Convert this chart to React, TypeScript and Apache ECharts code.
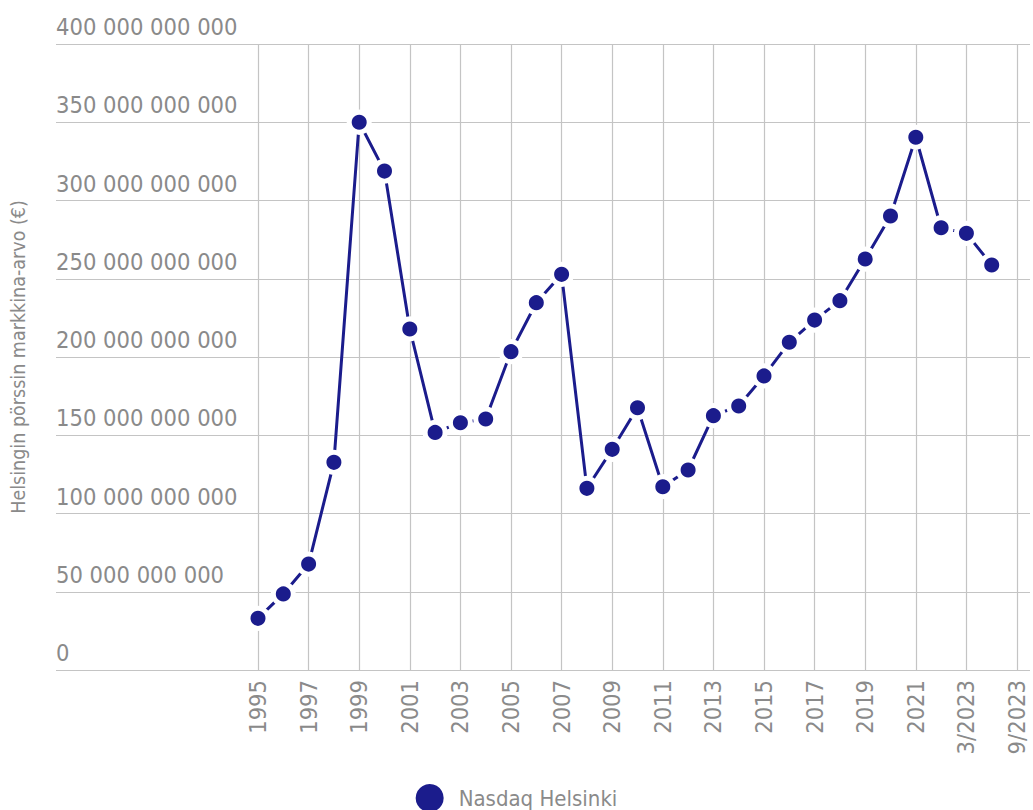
import React, { useEffect, useRef } from "react";
import * as echarts from "echarts";

const categories = [
  "1995", "1996", "1997", "1998", "1999", "2000", "2001", "2002", "2003", "2004",
  "2005", "2006", "2007", "2008", "2009", "2010", "2011", "2012", "2013", "2014",
  "2015", "2016", "2017", "2018", "2019", "2020", "2021", "2022", "3/2023", "6/2023", "9/2023",
];

const marketValue = [
  33.0e9, 48.6e9, 67.7e9, 132.7e9, 350.0e9, 318.8e9, 217.9e9, 151.8e9, 158.0e9, 160.4e9,
  203.4e9, 234.7e9, 252.8e9, 116.1e9, 141.0e9, 167.6e9, 117.1e9, 127.8e9, 162.5e9, 168.7e9,
  187.9e9, 209.4e9, 223.6e9, 236.0e9, 262.6e9, 290.1e9, 340.4e9, 282.6e9, 279.0e9, 258.8e9,
];

const seriesName = "Nasdaq Helsinki";
const yAxisTitle = "Helsingin pörssin markkina-arvo (€)";
const yMin = 0;
const yMax = 400e9;
const yStep = 50e9;

const FONT = "'Liberation Sans Narrow', 'DejaVu Sans Condensed', 'Roboto Condensed', sans-serif";
const TEXT = "#8a8a8a";
const GRID = "#c4c4c4";
const NAVY = "#1b1c8c";

function fmt(v: number): string {
  return String(Math.round(v)).replace(/\B(?=(\d{3})+(?!\d))/g, " ");
}

export default function App() {
  const ref = useRef<HTMLDivElement>(null);
  useEffect(() => {
    document.body.style.margin = "0";
    const chart = echarts.init(ref.current!, null, { renderer: "svg" });
    chart.setOption({
      animation: false,
      backgroundColor: "#ffffff",
      grid: [
        { left: 55, right: 3, top: 44, bottom: 140 },
        { left: 258, right: 16, top: 44, bottom: 140 },
      ],
      xAxis: [
        { gridIndex: 0, type: "value", show: false, min: 0, max: 1 },
        {
          gridIndex: 1,
          type: "category",
          data: categories,
          boundaryGap: false,
          axisLine: { show: false },
          axisTick: { show: false },
          splitLine: { show: true, interval: 1, lineStyle: { color: GRID, width: 1.2 } },
          axisLabel: {
            interval: 1,
            rotate: 90,
            margin: 10,
            color: TEXT,
            fontFamily: FONT,
            fontSize: 23.5,
          },
        },
      ],
      yAxis: [
        {
          gridIndex: 0,
          type: "value",
          min: yMin,
          max: yMax,
          interval: yStep,
          name: yAxisTitle,
          nameLocation: "middle",
          nameGap: 28,
          nameTextStyle: { color: TEXT, fontFamily: FONT, fontSize: 19.5 },
          axisLine: { show: false },
          axisTick: { show: false },
          splitLine: { show: true, lineStyle: { color: GRID, width: 1.2 } },
          axisLabel: {
            inside: true,
            margin: 0,
            align: "left",
            verticalAlign: "bottom",
            padding: [0, 0, 5, 0],
            color: TEXT,
            fontFamily: FONT,
            fontSize: 23.5,
            formatter: (v: number) => fmt(v),
          },
        },
        { gridIndex: 1, type: "value", min: yMin, max: yMax, interval: yStep, show: false, splitLine: { show: false } },
      ],
      legend: {
        data: [{ name: seriesName, icon: "circle" }],
        left: "center",
        top: 779,
        itemWidth: 28,
        itemHeight: 28,
        itemStyle: { borderWidth: 0 },
        textStyle: { color: TEXT, fontFamily: FONT, fontSize: 22, padding: [0, 0, 0, 10] },
      },
      series: [
        {
          name: seriesName,
          type: "line",
          xAxisIndex: 1,
          yAxisIndex: 1,
          data: marketValue,
          symbol: "circle",
          symbolSize: 20,
          showAllSymbol: true,
          lineStyle: { color: NAVY, width: 3 },
          itemStyle: { color: NAVY, borderColor: "#ffffff", borderWidth: 5 },
        },
      ],
    });
    return () => chart.dispose();
  }, []);
  return <div ref={ref} style={{ width: 1033, height: 810 }} />;
}
